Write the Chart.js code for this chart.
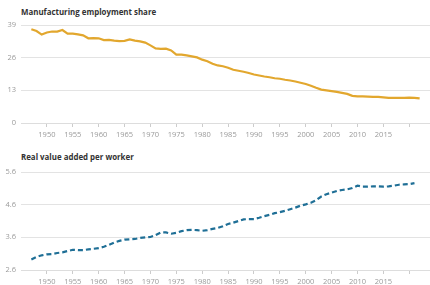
<!DOCTYPE html>
<html>
<head>
<meta charset="utf-8">
<script src="https://cdn.jsdelivr.net/npm/chart.js@4"></script>
<style>
  body { margin: 0; background: #fff; }
  #wrap { position: relative; width: 430px; height: 285px; overflow: hidden; font-family: "Open Sans", sans-serif; }
  canvas { position: absolute; left: 0; }
  .title { position: absolute; left: 21px; font-size: 7.9px; font-weight: bold; color: #333; line-height: 12px; white-space: nowrap; }
</style>
</head>
<body>
<div id="wrap">
  <div class="title" id="title1" style="top:5.5px">Manufacturing employment share</div>
  <canvas id="empChart" width="430" height="140" style="top:0"></canvas>
  <div class="title" id="title2" style="top:151px">Real value added per worker</div>
  <canvas id="valChart" width="430" height="145" style="top:140px"></canvas>
</div>
<script>
/* DATA */
const years = [1947, 1948, 1949, 1950, 1951, 1952, 1953, 1954, 1955, 1956,
    1957, 1958, 1959, 1960, 1961, 1962, 1963, 1964, 1965, 1966,
    1967, 1968, 1969, 1970, 1971, 1972, 1973, 1974, 1975, 1976,
    1977, 1978, 1979, 1980, 1981, 1982, 1983, 1984, 1985, 1986,
    1987, 1988, 1989, 1990, 1991, 1992, 1993, 1994, 1995, 1996,
    1997, 1998, 1999, 2000, 2001, 2002, 2003, 2004, 2005, 2006,
    2007, 2008, 2009, 2010, 2011, 2012, 2013, 2014, 2015, 2016,
    2017, 2018, 2019, 2020, 2021, 2022];

// Manufacturing employment share, 1947-2022
const employmentShare = [37.3, 36.6, 35.2, 36.0, 36.4, 36.4, 37.0, 35.6, 35.6, 35.3,
    34.9, 33.7, 33.8, 33.7, 33.0, 33.1, 32.8, 32.6, 32.7, 33.3,
    32.8, 32.5, 32.0, 30.9, 29.7, 29.5, 29.6, 28.9, 27.2, 27.2,
    26.9, 26.5, 26.1, 25.2, 24.6, 23.6, 22.9, 22.6, 22.0, 21.2,
    20.8, 20.4, 19.9, 19.3, 18.9, 18.5, 18.2, 17.8, 17.6, 17.2,
    16.9, 16.5, 16.0, 15.5, 14.8, 14.0, 13.3, 13.0, 12.7, 12.4,
    12.0, 11.6, 10.8, 10.6, 10.6, 10.5, 10.4, 10.4, 10.2, 10.0,
    10.0, 10.0, 10.0, 10.1, 10.0, 9.8];

// Real value added per worker, 1947-2021
const valuePerWorker = [2.92, 3.00, 3.05, 3.08, 3.09, 3.12, 3.14, 3.18, 3.22, 3.21,
    3.21, 3.23, 3.25, 3.27, 3.31, 3.37, 3.44, 3.49, 3.53, 3.54,
    3.55, 3.58, 3.60, 3.61, 3.67, 3.75, 3.75, 3.71, 3.74, 3.79,
    3.82, 3.83, 3.82, 3.80, 3.82, 3.86, 3.89, 3.94, 4.01, 4.05,
    4.10, 4.15, 4.16, 4.16, 4.20, 4.25, 4.29, 4.34, 4.37, 4.41,
    4.46, 4.51, 4.57, 4.61, 4.66, 4.74, 4.85, 4.92, 4.97, 5.02,
    5.05, 5.07, 5.11, 5.18, 5.15, 5.15, 5.16, 5.16, 5.15, 5.16,
    5.18, 5.21, 5.22, 5.23, 5.26];

const xTicks = [1950, 1955, 1960, 1965, 1970, 1975, 1980, 1985, 1990, 1995, 2000, 2005, 2010, 2015, 2020];
const xTickLabels = ['1950', '1955', '1960', '1965', '1970', '1975', '1980', '1985', '1990', '1995', '2000', '2005', '2010', '2015', ''];
const empTicks = [0, 13, 26, 39];
const valTicks = [2.6, 3.6, 4.6, 5.6];

/* CHARTS */
const tickFont = { family: 'Open Sans', size: 7.5 };

function toPoints(values) {
    return values.map((v, i) => ({ x: years[i], y: v }));
}

function makeChart(id, values, yTicks, yDecimals, lineStyle, padTop, xHeight) {
    const ctx = document.getElementById(id).getContext('2d');
    return new Chart(ctx, {
        type: 'line',
        data: {
            datasets: [{
                data: toPoints(values),
                borderColor: lineStyle.color,
                borderWidth: lineStyle.width,
                borderDash: lineStyle.dash,
                pointRadius: 0,
                tension: 0,
                fill: false,
            }],
        },
        options: {
            responsive: false,
            animation: false,
            layout: { padding: { top: padTop, right: 0, bottom: 0, left: 0 } },
            plugins: { legend: { display: false }, tooltip: { enabled: false } },
            scales: {
                x: {
                    type: 'linear',
                    min: 1945,
                    max: 2024,
                    afterBuildTicks: (scale) => { scale.ticks = xTicks.map(v => ({ value: v })); },
                    afterFit: (scale) => { scale.height = xHeight; },
                    grid: { drawOnChartArea: false, drawTicks: true, tickLength: 4, color: '#cccccc' },
                    border: { display: true, color: '#dddddd' },
                    ticks: {
                        font: tickFont,
                        color: '#9a9a9a',
                        padding: 3,
                        maxRotation: 0,
                        autoSkip: false,
                        callback: (value) => xTickLabels[xTicks.indexOf(value)],
                    },
                },
                y: {
                    min: yTicks[0],
                    max: yTicks[yTicks.length - 1],
                    afterBuildTicks: (scale) => { scale.ticks = yTicks.map(v => ({ value: v })); },
                    afterFit: (scale) => { scale.width = 21; },
                    grid: { drawTicks: false, color: '#e3e3e3', lineWidth: 1 },
                    border: { display: false },
                    ticks: {
                        font: tickFont,
                        color: '#9a9a9a',
                        padding: 5,
                        callback: (value) => value.toFixed(yDecimals),
                    },
                },
            },
        },
    });
}

makeChart('empChart', employmentShare, empTicks, 0,
    { color: '#e2a72e', width: 2.2, dash: [] }, 25, 17);

makeChart('valChart', valuePerWorker, valTicks, 1,
    { color: '#1f6f96', width: 2.2, dash: [5, 3] }, 32, 15);
</script>
</body>
</html>
